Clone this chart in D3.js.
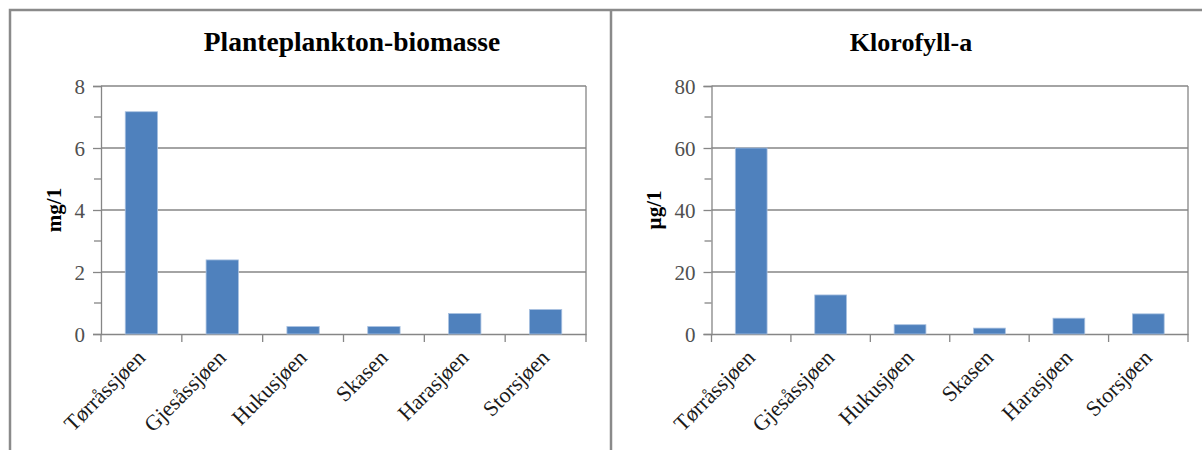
<!DOCTYPE html>
<html>
<head>
<meta charset="utf-8">
<script src="https://cdn.jsdelivr.net/npm/d3@7"></script>
<style>
  body { margin: 0; background: #fff; }
  svg { display: block; }
</style>
</head>
<body>
<div id="chart"></div>
<script>
var lakes = ["Tørråssjøen", "Gjesåssjøen", "Hukusjøen", "Skasen", "Harasjøen", "Storsjøen"];
var biomasse = [7.17, 2.39, 0.24, 0.24, 0.66, 0.79];
var klorofyll = [60, 12.6, 3.0, 1.9, 5.1, 6.5];
var biomasseTicks = [0, 2, 4, 6, 8];
var klorofyllTicks = [0, 20, 40, 60, 80];

var serif = "'Liberation Serif', 'DejaVu Serif', serif";
var w = 1202, h = 450;
var svg = d3.select("#chart")
    .append("svg")
    .attr("width", w)
    .attr("height", h);

// panel frames
var frame = "#8a8a8a";
svg.append("path")
    .attr("d", "M10,450 V10 H1202 M611,10 V450")
    .attr("fill", "none")
    .attr("stroke", frame)
    .attr("stroke-width", 2.5);

function drawChart(opt) {
  var x = d3.scaleBand()
      .domain(lakes)
      .range([opt.left, opt.right])
      .paddingInner(0.6)
      .paddingOuter(0.3);
  var y = d3.scaleLinear()
      .domain([0, opt.ticks[opt.ticks.length - 1]])
      .range([334, 86]);

  var g = svg.append("g");
  var grey = "#868686";

  // gridlines
  g.selectAll(".grid")
      .data(opt.ticks.slice(1))
      .enter()
      .append("line")
      .attr("x1", opt.left)
      .attr("x2", opt.right)
      .attr("y1", function(d) { return y(d); })
      .attr("y2", function(d) { return y(d); })
      .attr("stroke", grey)
      .attr("stroke-width", 1.3);

  // right border of plot
  g.append("line")
      .attr("x1", opt.right).attr("x2", opt.right)
      .attr("y1", y.range()[1]).attr("y2", y.range()[0])
      .attr("stroke", grey)
      .attr("stroke-width", 1.3);

  // minor ticks halfway between majors
  var step = opt.ticks[1] - opt.ticks[0];
  var minor = opt.ticks.slice(0, -1).map(function(d) { return d + step / 2; });

  var yAxis = d3.axisLeft(y)
      .tickValues(opt.ticks)
      .tickSize(8)
      .tickPadding(8)
      .tickFormat(d3.format("d"));
  var ya = g.append("g")
      .attr("transform", "translate(" + opt.left + ",0)")
      .call(yAxis);
  ya.select(".domain").attr("stroke", grey).attr("stroke-width", 1.3);
  ya.selectAll(".tick line").attr("stroke", grey).attr("stroke-width", 1.3);
  ya.selectAll(".tick text")
      .attr("font-family", serif)
      .attr("font-size", 21)
      .attr("fill", "#505050")
      .attr("dy", "0.34em");

  g.selectAll(".minor")
      .data(minor)
      .enter()
      .append("line")
      .attr("x1", opt.left - 7)
      .attr("x2", opt.left)
      .attr("y1", function(d) { return y(d); })
      .attr("y2", function(d) { return y(d); })
      .attr("stroke", grey)
      .attr("stroke-width", 1.3);

  // category axis
  var xa = g.append("g")
      .attr("transform", "translate(0,334)")
      .call(d3.axisBottom(x).tickSize(0).tickFormat(""));
  xa.select(".domain").attr("stroke", grey).attr("stroke-width", 1.3);
  xa.selectAll(".tick").remove();

  var bounds = x.domain().map(function(d) { return x(d) - x.step() * x.paddingInner() / 2; });
  bounds.push(opt.right);
  g.selectAll(".ctick")
      .data(bounds)
      .enter()
      .append("line")
      .attr("x1", function(d) { return d; })
      .attr("x2", function(d) { return d; })
      .attr("y1", 334)
      .attr("y2", 342)
      .attr("stroke", grey)
      .attr("stroke-width", 1.3);

  // bars
  g.selectAll(".bar")
      .data(opt.values)
      .enter()
      .append("rect")
      .attr("x", function(d, i) { return x(lakes[i]); })
      .attr("y", function(d) { return y(d); })
      .attr("width", x.bandwidth())
      .attr("height", function(d) { return y(0) - y(d); })
      .attr("fill", "#4f81bd")
      .attr("stroke", "#a9c1e0")
      .attr("stroke-width", 0.8);

  // category labels
  g.selectAll(".clabel")
      .data(lakes)
      .enter()
      .append("text")
      .attr("transform", function(d) {
        return "translate(" + (x(d) + x.bandwidth() / 2 + 5) + ",359) rotate(-45)";
      })
      .attr("text-anchor", "end")
      .attr("font-family", serif)
      .attr("font-size", 22)
      .attr("fill", "#1a1a1a")
      .text(function(d) { return d; });

  // title
  g.append("text")
      .attr("x", opt.titleX)
      .attr("y", 51)
      .attr("text-anchor", "middle")
      .attr("font-family", serif)
      .attr("font-weight", "bold")
      .attr("font-size", opt.titleSize)
      .attr("fill", "#000")
      .text(opt.title);

  // y axis title
  g.append("text")
      .attr("transform", "translate(" + opt.unitX + "," + 210 + ") rotate(-90)")
      .attr("text-anchor", "middle")
      .attr("font-family", serif)
      .attr("font-weight", "bold")
      .attr("font-size", 21)
      .attr("fill", "#000")
      .text(opt.unit);
}

drawChart({
  values: biomasse,
  ticks: biomasseTicks,
  left: 101,
  right: 586,
  title: "Planteplankton-biomasse",
  titleX: 352,
  titleSize: 27.5,
  unit: "mg/1",
  unitX: 61
});

drawChart({
  values: klorofyll,
  ticks: klorofyllTicks,
  left: 711.5,
  right: 1188,
  title: "Klorofyll-a",
  titleX: 911,
  titleSize: 26,
  unit: "µg/1",
  unitX: 661
});
</script>
</body>
</html>
